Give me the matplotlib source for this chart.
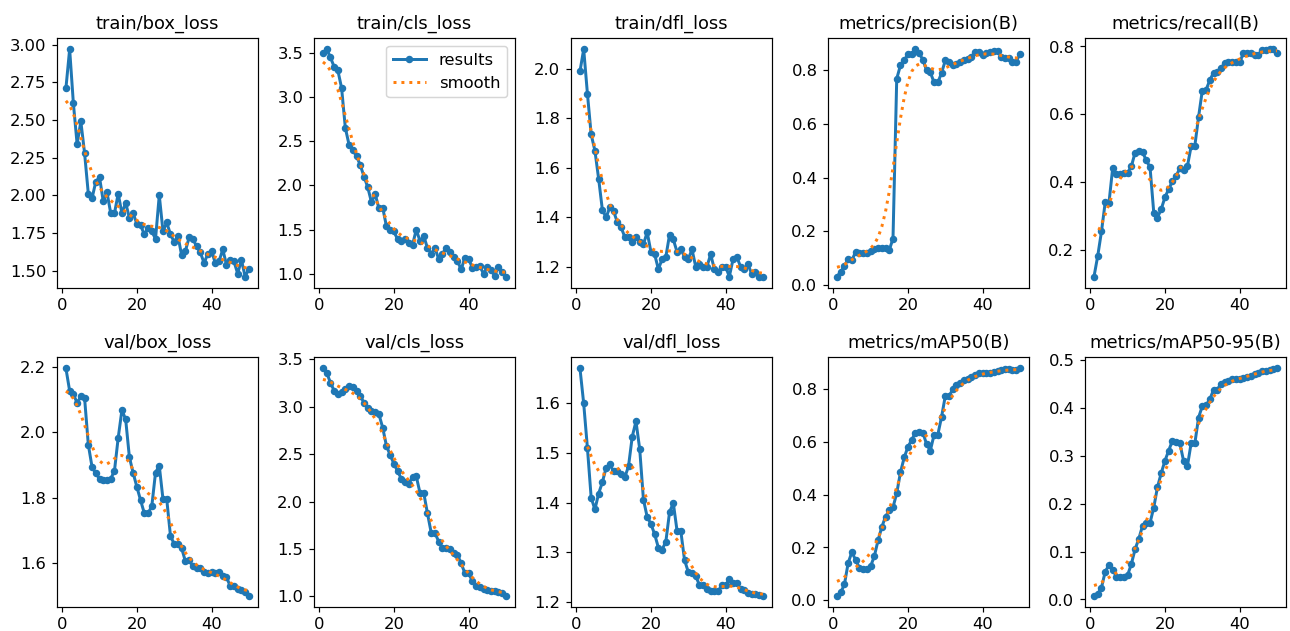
import numpy as np
import matplotlib
matplotlib.use("Agg")
import matplotlib.pyplot as plt

epochs = list(range(1, 51))

titles = ["train/box_loss", "train/cls_loss", "train/dfl_loss", "metrics/precision(B)", "metrics/recall(B)",
          "val/box_loss", "val/cls_loss", "val/dfl_loss", "metrics/mAP50(B)", "metrics/mAP50-95(B)"]

train_box_loss = [2.71, 2.97, 2.61, 2.34, 2.49, 2.28, 2.01, 1.98, 2.09, 2.12,
                  1.96, 2.02, 1.88, 1.88, 2.01, 1.88, 1.95, 1.85, 1.88, 1.81,
                  1.80, 1.74, 1.78, 1.76, 1.71, 2.00, 1.76, 1.82, 1.74, 1.69,
                  1.73, 1.60, 1.63, 1.72, 1.71, 1.66, 1.62, 1.55, 1.61, 1.63,
                  1.55, 1.56, 1.64, 1.54, 1.57, 1.56, 1.48, 1.57, 1.46, 1.51]
train_cls_loss = [3.50, 3.54, 3.45, 3.34, 3.30, 3.10, 2.65, 2.46, 2.40, 2.33,
                  2.23, 2.10, 1.98, 1.81, 1.90, 1.74, 1.75, 1.54, 1.50, 1.48,
                  1.39, 1.37, 1.40, 1.35, 1.33, 1.50, 1.37, 1.43, 1.29, 1.23,
                  1.29, 1.17, 1.23, 1.29, 1.25, 1.19, 1.15, 1.05, 1.18, 1.17,
                  1.07, 1.08, 1.09, 1.00, 1.08, 1.04, 0.98, 1.08, 1.02, 0.97]
train_dfl_loss = [1.99, 2.08, 1.90, 1.735, 1.67, 1.556, 1.43, 1.40, 1.44, 1.425,
                  1.38, 1.36, 1.32, 1.32, 1.30, 1.32, 1.30, 1.29, 1.34, 1.26,
                  1.25, 1.19, 1.23, 1.24, 1.33, 1.31, 1.26, 1.27, 1.24, 1.23,
                  1.27, 1.20, 1.21, 1.20, 1.20, 1.25, 1.19, 1.18, 1.20, 1.20,
                  1.16, 1.23, 1.24, 1.20, 1.19, 1.21, 1.17, 1.18, 1.16, 1.16]
precision = [0.032, 0.05, 0.072, 0.097, 0.093, 0.124, 0.119, 0.119, 0.121, 0.128,
             0.136, 0.14, 0.14, 0.137, 0.131, 0.173, 0.769, 0.819, 0.837, 0.861,
             0.862, 0.879, 0.864, 0.84, 0.80, 0.793, 0.755, 0.755, 0.79, 0.837,
             0.833, 0.82, 0.825, 0.83, 0.84, 0.842, 0.85, 0.87, 0.867, 0.858,
             0.864, 0.867, 0.873, 0.873, 0.85, 0.848, 0.845, 0.833, 0.833, 0.861]
recall = [0.121, 0.182, 0.254, 0.34, 0.338, 0.441, 0.424, 0.424, 0.428, 0.428,
          0.446, 0.487, 0.493, 0.488, 0.464, 0.444, 0.31, 0.295, 0.32, 0.355,
          0.379, 0.402, 0.418, 0.441, 0.436, 0.446, 0.505, 0.507, 0.592, 0.67,
          0.672, 0.70, 0.723, 0.726, 0.736, 0.751, 0.753, 0.753, 0.753, 0.753,
          0.78, 0.782, 0.782, 0.775, 0.775, 0.79, 0.79, 0.792, 0.792, 0.782]
val_box_loss = [2.196, 2.127, 2.117, 2.09, 2.11, 2.105, 1.962, 1.894, 1.874, 1.858,
                1.855, 1.855, 1.858, 1.882, 1.983, 2.068, 2.04, 1.924, 1.876, 1.833,
                1.792, 1.752, 1.752, 1.774, 1.877, 1.898, 1.795, 1.795, 1.683, 1.658,
                1.658, 1.645, 1.605, 1.608, 1.59, 1.585, 1.585, 1.572, 1.57, 1.572,
                1.57, 1.572, 1.56, 1.557, 1.529, 1.529, 1.521, 1.517, 1.511, 1.50]
val_cls_loss = [3.406, 3.36, 3.255, 3.17, 3.14, 3.16, 3.19, 3.22, 3.21, 3.17,
                3.11, 3.045, 2.99, 2.96, 2.94, 2.92, 2.78, 2.59, 2.49, 2.40,
                2.32, 2.24, 2.21, 2.19, 2.26, 2.265, 2.09, 2.09, 1.874, 1.67,
                1.67, 1.577, 1.51, 1.51, 1.50, 1.455, 1.44, 1.35, 1.245, 1.245,
                1.16, 1.11, 1.10, 1.077, 1.07, 1.06, 1.055, 1.042, 1.035, 1.007]
val_dfl_loss = [1.671, 1.60, 1.51, 1.41, 1.386, 1.418, 1.441, 1.47, 1.477, 1.463,
                1.463, 1.458, 1.451, 1.473, 1.533, 1.564, 1.508, 1.406, 1.371, 1.357,
                1.336, 1.309, 1.305, 1.321, 1.381, 1.399, 1.343, 1.343, 1.284, 1.26,
                1.258, 1.252, 1.233, 1.233, 1.225, 1.221, 1.221, 1.221, 1.233, 1.233,
                1.245, 1.238, 1.237, 1.225, 1.223, 1.217, 1.215, 1.215, 1.213, 1.212]
map50 = [0.018, 0.03, 0.061, 0.142, 0.183, 0.152, 0.124, 0.117, 0.12, 0.129,
         0.167, 0.227, 0.277, 0.317, 0.34, 0.352, 0.405, 0.484, 0.54, 0.58,
         0.606, 0.634, 0.637, 0.634, 0.59, 0.566, 0.626, 0.626, 0.693, 0.772,
         0.772, 0.797, 0.814, 0.823, 0.831, 0.838, 0.845, 0.85, 0.858, 0.858,
         0.86, 0.86, 0.864, 0.867, 0.87, 0.873, 0.873, 0.87, 0.87, 0.877]
map50_95 = [0.008, 0.012, 0.025, 0.058, 0.072, 0.062, 0.048, 0.046, 0.048, 0.051,
            0.074, 0.105, 0.127, 0.154, 0.16, 0.16, 0.192, 0.235, 0.264, 0.29,
            0.311, 0.332, 0.33, 0.326, 0.289, 0.278, 0.326, 0.326, 0.38, 0.404,
            0.406, 0.418, 0.438, 0.438, 0.451, 0.455, 0.456, 0.46, 0.461, 0.461,
            0.463, 0.465, 0.467, 0.472, 0.474, 0.477, 0.478, 0.48, 0.482, 0.483]

series = [train_box_loss, train_cls_loss, train_dfl_loss, precision, recall,
          val_box_loss, val_cls_loss, val_dfl_loss, map50, map50_95]


def gauss_smooth(y, sigma=3.0):
    # same as scipy gaussian_filter1d (mode reflect, truncate 4)
    y = np.asarray(y, dtype=float)
    r = int(4 * sigma + 0.5)
    k = np.exp(-0.5 * (np.arange(-r, r + 1) / sigma) ** 2)
    k /= k.sum()
    yp = np.pad(y, r, mode="symmetric")
    return np.convolve(yp, k, mode="valid")


plt.rcParams["font.size"] = 11

fig, axs = plt.subplots(2, 5, figsize=(12, 5.87), dpi=107.5)
fig.subplots_adjust(left=0.044, right=0.997, top=0.94, bottom=0.038,
                    wspace=0.277, hspace=0.276)
axs = axs.ravel()
for i, (t, y) in enumerate(zip(titles, series)):
    ax = axs[i]
    ax.plot(epochs, y, marker=".", label="results", linewidth=2, markersize=8)
    ax.plot(epochs, gauss_smooth(y), ":", label="smooth", linewidth=2)
    ax.set_title(t, fontsize=12)
axs[1].legend()

fig.savefig("out.png", dpi=107.5)
